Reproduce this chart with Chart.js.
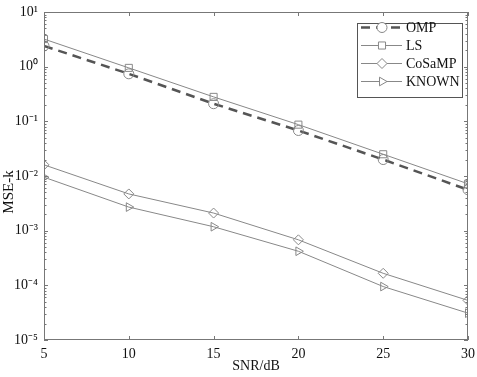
<!DOCTYPE html>
<html>
<head>
<meta charset="utf-8">
<script src="https://cdn.jsdelivr.net/npm/chart.js@4"></script>
<style>
  html, body { margin: 0; padding: 0; background: #fff; }
  #wrap { width: 477px; height: 377px; }
</style>
</head>
<body>
<div id="wrap"><canvas id="mseChart" width="477" height="377"></canvas></div>
<script>
// data
const snr = [5, 10, 15, 20, 25, 30];
const ompMse = [2.4, 0.74, 0.21, 0.068, 0.020, 0.0056];
const lsMse = [3.2, 0.95, 0.28, 0.087, 0.025, 0.0072];
const cosampMse = [0.016, 0.0047, 0.0021, 0.00068, 0.000166, 0.000053];
const knownMse = [0.0095, 0.0027, 0.00118, 0.00042, 0.000095, 0.000031];
const seriesNames = ['OMP', 'LS', 'CoSaMP', 'KNOWN'];
const xTicks = [5, 10, 15, 20, 25, 30];
const yTickLabels = ['10\u207B\u2075', '10\u207B\u2074', '10\u207B\u00B3', '10\u207B\u00B2', '10\u207B\u00B9', '10\u2070', '10\u00B9'];
const yTitle = 'MSE-k';

const serif = '"Liberation Serif", "Times New Roman", serif';

// box, inward ticks on all four sides (MATLAB style)
const boxTicks = {
    id: 'boxTicks',
    afterDraw(chart) {
        const { ctx, chartArea: a, scales } = chart;
        ctx.save();
        ctx.strokeStyle = '#777';
        ctx.lineWidth = 1;
        ctx.strokeRect(a.left + 0.5, a.top + 0.5, a.right - a.left - 1, a.bottom - a.top - 1);
        ctx.beginPath();
        xTicks.forEach(v => {
            const x = Math.round(scales.x.getPixelForValue(v)) + 0.5;
            ctx.moveTo(x, a.bottom); ctx.lineTo(x, a.bottom - 4);
            ctx.moveTo(x, a.top); ctx.lineTo(x, a.top + 4);
        });
        for (let e = -5; e <= 1; e++) {
            for (let m = 1; m <= 9; m++) {
                const v = m * Math.pow(10, e);
                if (v > 10 + 1e-9) break;
                const y = Math.round(scales.y.getPixelForValue(v)) + 0.5;
                const len = m === 1 ? 4 : 2.5;
                ctx.moveTo(a.left, y); ctx.lineTo(a.left + len, y);
                ctx.moveTo(a.right, y); ctx.lineTo(a.right - len, y);
            }
        }
        ctx.stroke();

        // y axis title, sits a little below the middle in the original
        ctx.translate(9, 192);
        ctx.rotate(-Math.PI / 2);
        ctx.fillStyle = '#111';
        ctx.font = '15px ' + serif;
        ctx.textAlign = 'center';
        ctx.textBaseline = 'middle';
        ctx.fillText(yTitle, 0, 0);
        ctx.restore();
    }
};

// boxed legend with line + marker samples
const boxLegend = {
    id: 'boxLegend',
    afterDraw(chart) {
        const { ctx } = chart;
        const left = 357, top = 23, right = 462, bottom = 97;
        ctx.save();
        ctx.fillStyle = '#fff';
        ctx.fillRect(left, top, right - left, bottom - top);
        ctx.strokeStyle = '#555';
        ctx.lineWidth = 1;
        ctx.strokeRect(left + 0.5, top + 0.5, right - left, bottom - top);
        const rows = [27, 45, 63, 81];
        chart.data.datasets.forEach((ds, i) => {
            const y = rows[i] + 0.5;
            ctx.strokeStyle = ds.borderColor;
            ctx.lineWidth = ds.borderWidth;
            ctx.setLineDash(ds.borderDash || []);
            ctx.beginPath();
            ctx.moveTo(361, y); ctx.lineTo(402, y);
            ctx.stroke();
            ctx.setLineDash([]);
            ctx.fillStyle = '#fff';
            ctx.strokeStyle = '#888';
            ctx.lineWidth = 1;
            Chart.helpers.drawPoint(ctx, {
                pointStyle: ds.pointStyle,
                radius: ds.pointRadius,
                rotation: ds.pointRotation || 0,
                borderWidth: 1
            }, 382, y);
            ctx.fillStyle = '#111';
            ctx.font = '14px ' + serif;
            ctx.textBaseline = 'middle';
            ctx.fillText(ds.label, 406, y + 1);
        });
        ctx.restore();
    }
};

function series(label, data, color, width, style, dash, rot) {
    return {
        label: label,
        data: data,
        borderColor: color,
        borderWidth: width,
        borderDash: dash,
        pointStyle: style,
        pointRotation: rot,
        pointRadius: 5,
        pointBorderWidth: 1,
        pointBorderColor: '#888',
        pointBackgroundColor: 'rgba(255,255,255,0)',
        fill: false,
        tension: 0
    };
}

const ctx = document.getElementById('mseChart').getContext('2d');
const mseChart = new Chart(ctx, {
    type: 'line',
    data: {
        labels: snr,
        datasets: [
            series(seriesNames[0], ompMse, '#555', 2.5, 'circle', [9, 6], 0),
            series(seriesNames[1], lsMse, '#888', 1, 'rect', [], 0),
            series(seriesNames[2], cosampMse, '#888', 1, 'rectRot', [], 0),
            series(seriesNames[3], knownMse, '#888', 1, 'triangle', [], 90)
        ]
    },
    options: {
        responsive: false,
        animation: false,
        devicePixelRatio: 1,
        layout: { padding: { top: 0, right: 0, left: 0, bottom: 0 } },
        plugins: {
            legend: { display: false },
            tooltip: { enabled: false }
        },
        scales: {
            x: {
                type: 'linear',
                min: 5,
                max: 30,
                grid: { display: false, drawTicks: false },
                border: { display: false },
                afterFit: (scale) => { scale.height = 37; scale.paddingRight = 9; scale.paddingLeft = 0; },
                afterBuildTicks: (scale) => { scale.ticks = xTicks.map(v => ({ value: v })); },
                ticks: {
                    padding: 6,
                    color: '#111',
                    font: { family: serif, size: 14 }
                },
                title: {
                    display: true,
                    text: 'SNR/dB',
                    color: '#111',
                    font: { family: serif, size: 14 },
                    padding: { top: 0, bottom: 2 }
                }
            },
            y: {
                type: 'logarithmic',
                min: 1e-5,
                max: 10,
                grid: { display: false, drawTicks: false },
                border: { display: false },
                afterFit: (scale) => { scale.width = 44; scale.paddingTop = 12; scale.paddingBottom = 0; },
                ticks: {
                    padding: 6,
                    color: '#111',
                    autoSkip: false,
                    font: { family: serif, size: 14 },
                    callback: (value) => {
                        const e = Math.log10(value);
                        if (Math.abs(e - Math.round(e)) > 1e-6) return '';
                        return yTickLabels[Math.round(e) + 5];
                    }
                }
            }
        }
    },
    plugins: [boxTicks, boxLegend]
});
</script>
</body>
</html>
